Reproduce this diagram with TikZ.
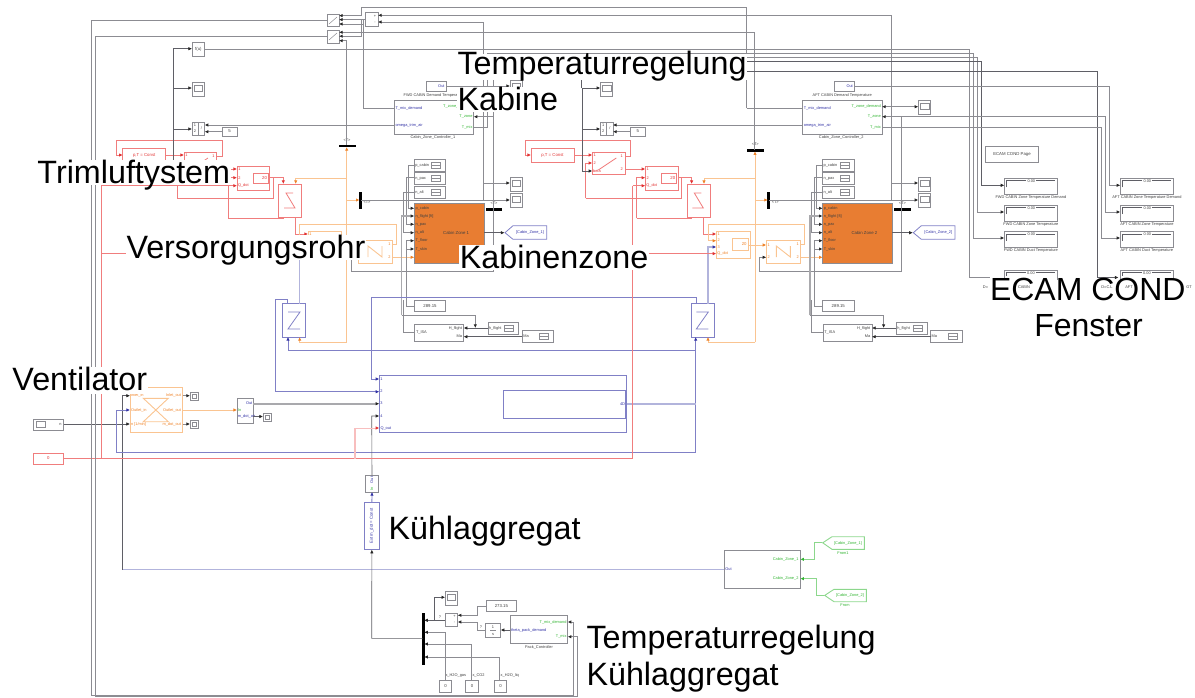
\documentclass[tikz,border=0pt]{standalone}
\usepackage{fontspec}
\setmainfont{Liberation Sans}
\usetikzlibrary{arrows.meta}
\definecolor{cgray}{RGB}{140,140,146}
\definecolor{cdark}{RGB}{95,95,102}
\definecolor{cred}{RGB}{240,125,125}
\definecolor{cpale}{RGB}{248,190,190}
\definecolor{cora}{RGB}{250,196,145}
\definecolor{cblue}{RGB}{128,128,198}
\definecolor{cblpale}{RGB}{178,180,220}
\definecolor{cgrn}{RGB}{140,215,140}
\definecolor{tred}{RGB}{225,50,50}
\definecolor{tora}{RGB}{238,130,40}
\definecolor{tblu}{RGB}{50,50,165}
\definecolor{tgrn}{RGB}{50,180,50}
\definecolor{czone}{RGB}{232,125,50}
\newcounter{labc}
\tikzset{
  base blk/.style={draw,line width=.9pt,inner sep=0pt,outer sep=0pt,font=\fontsize{4.3}{5}\selectfont,text=black!75},
  gblk/.style={base blk,draw=cgray},
  rblk/.style={base blk,draw=cred,text=tred},
  oblk/.style={base blk,draw=cora,text=tora},
  bblk/.style={base blk,draw=cblue,text=tblu},
  zoneblk/.style={base blk,draw=cgray,fill=czone},
  barblk/.style={base blk,draw=black,fill=black},
  txt/.style={inner sep=0pt,outer sep=0pt,font=\fontsize{3.9}{5}\selectfont,text=black!75,text height=2.8pt,text depth=.4pt},
  gl/.style={draw=cgray,line width=.9pt},
  gt/.style={draw=cgray!75,line width=1.8pt},
  dl/.style={draw=cdark,line width=.6pt},
  rl/.style={draw=cred,line width=.8pt},
  rp/.style={draw=cpale,line width=1.2pt},
  ol/.style={draw=cora,line width=.9pt},
  bl/.style={draw=cblue,line width=.8pt},
  bp/.style={draw=cblpale,line width=1.3pt},
  nl/.style={draw=cgrn,line width=.9pt},
  ak/.style={-{Latex[length=3.6pt,width=3.4pt,color=black!85]}},
  ar/.style={-{Latex[length=3.6pt,width=3.4pt,color=tred]}},
  ao/.style={-{Latex[length=3.6pt,width=3.4pt,color=tora]}},
  ab/.style={-{Latex[length=3.6pt,width=3.4pt,color=tblu]}},
  an/.style={-{Latex[length=3.6pt,width=3.4pt,color=tgrn]}},
  big/.style={anchor=base west,inner sep=.5pt,outer sep=0pt,font=\fontsize{32.3}{36}\selectfont,text=black,fill=white,text height=23pt,text depth=1pt},
  bigpl/.style={anchor=base west,inner sep=0pt,outer sep=0pt,font=\fontsize{32}{36}\selectfont,text=black},
}
\newcommand\blk[7][gblk]{\node[#1,minimum width={(#5-(#3))*1pt},minimum height={(#6-(#4))*1pt}] (#2) at ({(#3+#5)/2},{(#4+#6)/2}) {#7};}
\newcommand\lab[4][]{\stepcounter{labc}\node[txt,#1] (lab\arabic{labc}) at ({#2},{#3}) {#4};}
\newcommand\scp[3]{\blk{#1}{#2}{#3}{#2+12.6}{#3+14}{}\draw[gl,line width=.6pt] (#2+2,#3+3) rectangle (#2+10.6,#3+9);}
\newcommand\mini[3]{\blk{#1}{#2}{#3}{#2+8.5}{#3+8}{}\draw[gl,line width=.6pt] (#2+2,#3+2) rectangle (#2+6.5,#3+6);}
\newcommand\snk[6]{\blk{#1}{#2}{#3}{#4}{#5}{}\lab[anchor=west]{#2+1}{(#3+#5)/2}{#6}\draw[gl,line width=.7pt] (#4-14,#3+3) rectangle (#4-5,#5-3);\draw[gl,line width=.4pt] (#4-14,{(#3+#5)/2}) -- (#4-5,{(#3+#5)/2});}
\newcommand\disp[4]{\blk{#1}{#2}{#3}{#2+53.3}{#3+16}{}\draw[dl,line width=.4pt] (#2+2,#3+9) -- (#2+2,#3+2) -- (#2+22,#3+2) (#2+32,#3+2) -- (#2+51,#3+2);\lab{#2+27}{#3+3}{0.00}\lab{#2+26.6}{#3+19}{#4}}
% one half of the system: #1 suffix, #2 shift, #3 top-bar y, #4 title, #5 controller caption
\newcommand\plant[5]{\begin{scope}[xshift=#2pt]
\blk[rblk]{pt#1}{122.7}{148}{165.7}{162}{p,T = Const}
\blk[rblk]{rsw#1}{184}{152}{216.7}{174}{}
\draw[rl] (190,170) -- (208,158);
\lab[text=tred]{186.5}{155}{1}\lab[text=tred]{186.5}{163}{2}\lab[text=tred,anchor=west]{184.8}{171}{beta}\lab[text=tred]{213.5}{156}{1}\lab[text=tred]{213.5}{169}{2}
\blk[rblk]{rq#1}{237}{166}{269.7}{190}{}
\blk[rblk]{rqi#1}{253}{173}{268}{183}{\hspace*{8pt}20}
\lab[text=tred]{239.5}{169}{1}\lab[text=tred]{239.5}{178}{2}\lab[text=tred,anchor=west]{238}{185.7}{Q\_dot}
\blk[rblk]{mix#1}{278.7}{184}{301.7}{217}{}
\draw[rl] (293,193) -- (286,193) -- (295,208) -- (284,208);
\blk[oblk]{ob#1}{308}{231}{341.7}{258}{}
\blk[oblk]{obi#1}{324}{238.3}{339.7}{250.7}{\hspace*{8pt}20}
\lab[text=tora]{310.5}{234}{1}\lab[text=tora]{310.5}{240.7}{2}\lab[text=tora]{310.5}{247}{3}\lab[text=tora,anchor=west]{309}{253.7}{Q\_dot}
\blk[oblk]{nb#1}{358}{240}{392}{263.3}{}
\draw[ol] (368,257) -- (368,246) -- (382,257) -- (382,246);
\lab[text=tora]{360.5}{245}{1}\lab[text=tora]{360.5}{257.3}{2}\lab[text=tora]{389.5}{244.7}{1}\lab[text=tora]{389.5}{257.3}{2}
\blk[zoneblk]{zone#1}{414.3}{203}{484}{263.3}{\hspace*{14pt}Cabin Zone #1}
\lab[anchor=west]{415.5}{208.3}{p\_cabin}\lab[anchor=west]{415.5}{216}{n\_flight [ft]}\lab[anchor=west]{415.5}{224.3}{n\_pax}\lab[anchor=west]{415.5}{232.7}{n\_alt}\lab[anchor=west]{415.5}{240.7}{T\_floor}\lab[anchor=west]{415.5}{249}{T\_skin}\lab[anchor=west,text=tora]{415.5}{257.3}{In}
\snk{sa#1}{414.3}{159.3}{445.7}{171}{p\_cabin}
\snk{sb#1}{414.3}{172}{445.7}{184.3}{n\_pax}
\snk{sc#1}{414.3}{186.3}{445.7}{198.3}{n\_alt}
\blk{tc#1}{414.3}{300.7}{445.7}{311.7}{289.15}
\blk{isa#1}{414.7}{324}{463.7}{341.3}{}
\lab[anchor=west]{416}{332.7}{T\_ISA}\lab[anchor=east]{462}{328}{H\_flight}\lab[anchor=east]{462}{336.7}{Ma}
\snk{sh#1}{488}{322.3}{518.7}{334.7}{h\_flight}
\snk{sm#1}{522.3}{330.3}{553.7}{342.7}{Ma}
\node[bblk,draw=none,fill=none] (tagn#1) at (505,232.7) {};
\draw[bl] (505,232.7) -- (513,225.7) -- (546.7,225.7) -- (546.7,239.3) -- (513,239.3) -- cycle;
\lab[text=tblu]{530}{232.7}{[Cabin\_Zone\_#1]}
\blk[bblk]{zb#1}{282.7}{303.7}{305.7}{337}{}
\draw[bl] (288,312) -- (300,312) -- (288,329) -- (300,329);
\blk[barblk]{bv#1}{339}{#3-.8}{355}{#3+.8}{}
\blk[barblk]{bm#1}{359.6}{192.7}{361}{208.3}{}
\blk[barblk]{bz#1}{486}{208.4}{501.7}{210}{}
\lab{347}{#3-6}{<T>}\lab{367}{202.5}{<T>}\lab{494}{203}{<T>}
\scp{sca#1}{192}{82}
\blk{pr#1}{192}{122}{204.7}{135}{}
\draw[gl,line width=.5pt] (198.4,122) -- (198.4,135);
\lab{195}{125}{1}\lab{195}{131}{2}\lab{201.5}{128.5}{/}
\blk{five#1}{222}{127}{237}{136}{5}
\scp{scb#1}{510}{177}
\scp{scc#1}{510}{193}
\blk{ctl#1}{394.3}{100}{473.7}{134.3}{}
\lab[anchor=west,text=tblu]{395.5}{108}{T\_mix\_demand}\lab[anchor=west,text=tblu]{395.5}{125}{omega\_trim\_air}
\lab[anchor=east,text=tgrn]{472.5}{106}{T\_zone\_demand}\lab[anchor=east,text=tgrn]{472.5}{116.7}{T\_zone}\lab[anchor=east,text=tgrn]{472.5}{127}{T\_mix}
\lab{433}{137}{#5}
\blk{ou#1}{426.3}{81}{446}{91}{}
\lab[anchor=east,text=tblu]{444.5}{86}{Out}
\lab{434}{95}{#4}
% red
\draw[rl,ar] (rsw#1.east|-0,156) -- (222,156) -- (222,140.7) -- (116.7,140.7) -- (116.7,155) -- (pt#1.west|-0,155);
\draw[rl,ar] (pt#1.east|-0,155) -- (rsw#1.west|-0,155);
\draw[rl,ar] (rsw#1.east|-0,169) -- (rq#1.west|-0,169);
\draw[rl,ar] (177.3,198.3) -- (177.3,163) -- (rsw#1.west|-0,163);
\draw[rl,ar] (177.3,198.3) -- (273.3,198.3) -- (273.3,177.3) -- (283.3,177.3) -- (283.3,184);
\draw[rl] (rq#1.east|-0,177.3) -- (273.3,177.3);
\draw[rl,ar] (228.3,218.3) -- (228.3,177.7) -- (rq#1.west|-0,177.7);
\draw[rl] (228.3,218.3) -- (283,218.3) -- (283,217);
\draw[rl,ar] (295.3,217) -- (295.3,234) -- (ob#1.west|-0,234);
% orange
\draw[ol,ao] (346.7,178) -- (295.7,178) -- (295.7,184);
\draw[ol,ao] (346.7,200) -- (bm#1.west|-0,200);
\draw[ol,ao] (346.7,342.3) -- (346.7,#3+1);
\draw[ol,ao] (346.7,342.3) -- (299.7,342.3) -- (299.7,337);
\draw[ol,ao] (nb#1.east|-0,244.7) -- (396,244.7) -- (396,224.7) -- (299.7,224.7) -- (299.7,240.7) -- (ob#1.west|-0,240.7);
\draw[ol,ao] (obi#1.east|-0,245) -- (nb#1.west|-0,245);
\draw[ol,ao] (nb#1.east|-0,257.3) -- (zone#1.west|-0,257.3);
% blue
\draw[bp,ab] (299.7,303.7) -- (299.7,247) -- (ob#1.west|-0,247);
% gray
\draw[gl,ak] (bm#1.east|-0,200) -- (scc#1.west|-0,200);
\draw[dl,ak] (173.7,88) -- (sca#1.west|-0,88);
\draw[dl,ak] (173.7,129) -- (pr#1.west|-0,129);
\draw[dl,ak] (173.7,88) -- (173.7,171) -- (rsw#1.west|-0,171);
\draw[gl,ak] (ctl#1.west|-0,125) -- (pr#1.east|-0,125);
\draw[gl,ak] (five#1.west|-0,131.7) -- (pr#1.east|-0,131.7);
\draw[gl,ak] (483.3,106.7) -- (ctl#1.east|-0,106.7);
\draw[gl] (483.3,106.7) -- (483.3,200);
\draw[gl,ak] (483.3,183) -- (scb#1.west|-0,183);
\draw[gl,ak] (493.3,116.7) -- (ctl#1.east|-0,116.7);
\draw[gl,ak] (493.3,116.7) -- (493.3,271.7) -- (351,271.7) -- (351,257.3) -- (nb#1.west|-0,257.3);
\draw[dl,ak] (zone#1.east|-0,232.7) -- (tagn#1);
\draw[gl,ak] (sa#1.west|-0,165) -- (408,165) -- (408,208.3) -- (zone#1.west|-0,208.3);
\draw[gl,ak] (sb#1.west|-0,177.7) -- (406,177.7) -- (406,224.3) -- (zone#1.west|-0,224.3);
\draw[gl,ak] (sc#1.west|-0,192) -- (403,192) -- (403,232.7) -- (zone#1.west|-0,232.7);
\draw[gt,ak] (401.5,315.3) -- (401.5,216) -- (zone#1.west|-0,216);
\draw[gl,ak] (475.3,315.3) -- (475.3,328);
\draw[gl] (401.5,315.3) -- (475.3,315.3);
\draw[gl,ak] (tc#1.west|-0,306) -- (406,306) -- (406,240.7) -- (zone#1.west|-0,240.7);
\draw[gl,ak] (406,249) -- (zone#1.west|-0,249);
\draw[gl] (isa#1.west|-0,332.7) -- (403,332.7) -- (403,300);
\draw[dl,ak] (sh#1.west|-0,328) -- (isa#1.east|-0,328);
\draw[dl,ak] (sm#1.west|-0,336.7) -- (isa#1.east|-0,336.7);
\end{scope}}
\begin{document}
\begin{tikzpicture}[x=1pt,y=-1pt]
\useasboundingbox (0,0) rectangle (1195,697);
\plant{1}{0}{146}{FWD CABIN Demand Temperature}{Cabin\_Zone\_Controller\_1}
\plant{2}{408.3}{150.3}{AFT CABIN Demand Temperature}{Cabin\_Zone\_Controller\_2}
% top switches
\blk{sw1}{327}{14}{339}{26.7}{}
\blk{sw2}{327}{30}{339}{43}{}
\draw[gl,line width=.5pt] (329,24) -- (337,17) (329,40) -- (337,33);
\blk{sum}{365}{12.7}{378}{26}{}
\lab{375}{16}{+}\lab{375}{22}{-}
\blk{fu}{192}{42}{204.7}{56}{f(u)}
\scp{scf}{510}{80}
\scp{scg}{918.3}{100}
% displays
\blk{ecam}{985.7}{146.7}{1038.3}{162.3}{ECAM COND Page}
\disp{da}{1004.3}{178.3}{FWD CABIN Zone Temperature Demand}
\disp{db}{1004.3}{205}{FWD CABIN Zone Temperature}
\disp{dc}{1004.3}{231.7}{FWD CABIN Duct Temperature}
\disp{dd}{1120.3}{178.3}{AFT CABIN Zone Temperature Demand}
\disp{de}{1120.3}{205}{AFT CABIN Zone Temperature}
\disp{df}{1120.3}{231.7}{AFT CABIN Duct Temperature}
\draw[gl] (1004.3,280) -- (1004.3,270) -- (1057.6,270) -- (1057.6,280);
\draw[gl] (1120.3,280) -- (1120.3,270) -- (1173.6,270) -- (1173.6,280);
\draw[dl,line width=.4pt] (1006.3,276) -- (1006.3,272) -- (1026,272) (1036,272) -- (1055,272) (1122.3,276) -- (1122.3,272) -- (1142,272) (1152,272) -- (1171,272);
\lab{1031}{273}{0.00}\lab{1147}{273}{0.00}
\coordinate (dg) at (990,277.5);
\coordinate (dh) at (1118.5,277.5);
\lab{985.5}{287.7}{D=}\lab{1024}{287.7}{CABIN}\lab{1107}{287.7}{D=C.L}\lab{1129}{287.7}{AFT}\lab{1189}{287.7}{GT}
% fan
\blk[oblk]{fan}{130}{387}{182.7}{432}{}
\draw[ol] (143.3,398.3) -- (168.3,398.3) -- (143.3,421.7) -- (168.3,421.7) -- cycle;
\lab[anchor=west,text=tora]{131}{395.7}{Inlet\_in}\lab[anchor=west,text=tora]{131}{410}{Outlet\_in}\lab[anchor=west,text=tora]{131}{424}{n [1/min]}
\lab[anchor=east,text=tora]{181}{395.7}{Inlet\_out}\lab[anchor=east,text=tora]{181}{410}{Outlet\_out}\lab[anchor=east,text=tora]{181}{424}{m\_dot\_out}
\mini{mfa}{190}{392}\mini{mfb}{190}{420}\mini{mfc}{263}{413}
\blk{nin}{33}{419}{63.7}{430}{}
\draw[gl,line width=.7pt] (36,421.5) rectangle (45,427.5);
\lab{60.5}{424.5}{n}
\blk[rblk]{zero}{33}{453}{63.7}{464}{0}
\blk{sup}{237}{398}{253.3}{423}{}
\lab[anchor=east,text=tblu]{252.3}{403.7}{Out}\lab[anchor=west,text=tgrn]{238}{410}{In}\lab[anchor=west,text=tblu]{237.8}{416.5}{m\_dot\_air}
% big blue block
\blk[bblk]{bigb}{379.3}{375.3}{626.7}{432.3}{}
\blk[bblk]{inb}{503.3}{390.3}{625.7}{418}{}
\lab[text=tblu]{381.5}{379}{1}\lab[text=tblu]{381.5}{391.7}{2}\lab[text=tblu]{381.5}{403.7}{3}\lab[text=tblu]{381.5}{416}{4}\lab[anchor=west,text=tblu]{380.5}{428}{Q\_out}
\lab[anchor=east,text=tblu]{625}{404}{4D}
\blk{outb}{365.3}{475.3}{378.7}{492}{}
\lab[rotate=90,text=tblu]{372}{480}{Out}\lab[rotate=90,text=tgrn]{372}{488.5}{In}
\blk[bblk]{ext}{364}{502.3}{379.7}{549.7}{\rotatebox{90}{Ext m\_dot = Const}}
% pack
\blk[barblk]{bbar}{422.6}{613.3}{424.2}{664}{}
\scp{scp}{445.1}{591}
\blk{sumb}{445.3}{613.3}{457.7}{626}{}
\lab{454.5}{616}{+}\lab{454.5}{622}{-}
\blk{tcc}{486}{600.3}{516.7}{611.7}{273.15}
\blk{ints}{485.7}{623.3}{500.7}{637.7}{}
\lab{493}{627}{1}\draw[gl,line width=.4pt] (490,630.5) -- (496,630.5);\lab{493}{634}{s}
\blk{pack}{510.3}{615.3}{567.7}{643.7}{}
\lab[anchor=east,text=tgrn]{566.5}{622}{T\_mix\_demand}\lab[anchor=east,text=tgrn]{566.5}{636.7}{T\_mix}\lab[anchor=west,text=tblu]{511}{630}{theta\_pack\_demand}
\lab{539}{647}{Pack\_Controller}
\blk{ca}{439.3}{680}{451.7}{692}{0}
\blk{cb}{465.7}{680}{478.3}{692}{0}
\blk{cc}{494.3}{680}{506.7}{692}{0}
\lab[anchor=west]{445.5}{675}{x\_H2O\_gas}\lab[anchor=west]{472.5}{675}{x\_CO2}\lab[anchor=west]{500.7}{675}{x\_H2O\_liq}
\lab{440}{617}{?}\lab{481}{627}{?}
% green block
\blk{grn}{724.3}{550.7}{800.3}{588.7}{}
\lab[anchor=west,text=tblu]{725.3}{569.5}{Out}
\lab[anchor=east,text=tgrn]{798.5}{559.3}{Cabin\_Zone\_1}\lab[anchor=east,text=tgrn]{798.5}{578.7}{Cabin\_Zone\_2}
\node[txt] (fra) at (822.7,542.8) {};
\node[txt] (frb) at (824.7,595.4) {};
\draw[nl] (822.7,542.8) -- (832,536.7) -- (864.3,536.7) -- (864.3,549.3) -- (832,549.3) -- cycle;
\draw[nl] (824.7,595.4) -- (834,589.3) -- (866.3,589.3) -- (866.3,601.7) -- (834,601.7) -- cycle;
\lab[text=tgrn]{848}{543}{[Cabin\_Zone\_1]}\lab[text=tgrn]{850}{595.5}{[Cabin\_Zone\_2]}
\lab[text=tgrn]{843}{553}{From1}\lab[text=tgrn]{845}{605}{From}
% ---- connectors
\draw[nl,an] (fra) -- (814.3,542.8) -- (814.3,559.3) -- (grn.east|-0,559.3);
\draw[nl,an] (frb) -- (816.3,595.4) -- (816.3,578.7) -- (grn.east|-0,578.7);
\draw[gl,draw=cblpale] (grn.west|-0,569.7) -- (122.3,569.7);
\draw[dl,ak] (122.3,569.7) -- (122.3,395.7) -- (fan.west|-0,395.7);
\draw[dl,ak] (nin.east|-0,424) -- (fan.west|-0,424);
\draw[ol,ao] (fan.east|-0,410) -- (sup.west|-0,410);
\draw[gl,ak] (fan.east|-0,395.7) -- (mfa.west|-0,395.7);
\draw[gl,ak] (fan.east|-0,424) -- (mfb.west|-0,424);
\draw[dl,ak] (sup.east|-0,416.5) -- (mfc.west|-0,416.5);
\draw[gt,ak] (sup.east|-0,403.7) -- (bigb.west|-0,403.7);
\draw[bl,ab] (695.7,452.3) -- (116.3,452.3) -- (116.3,410) -- (fan.west|-0,410);
\draw[bl,ab] (695.7,452.3) -- (695.7,337);
\draw[bl,ab] (695.7,350) -- (288,350) -- (288,337);
\draw[bp] (bigb.east|-0,404) -- (695.7,404);
\draw[bl,ab] (696,303.7) -- (696,297) -- (371.3,297) -- (371.3,379) -- (bigb.west|-0,379);
\draw[bl,ab] (287.5,303.7) -- (287.5,299.3) -- (275.7,299.3) -- (275.7,391.7) -- (bigb.west|-0,391.7);
\draw[dl,ak] (outb.north) -- (371.7,416) -- (bigb.west|-0,416);
\draw[bl,ab] (ext.north) -- (outb.south);
\draw[dl,ak] (bbar.west|-0,638.3) -- (371.7,638.3) -- (ext.south);
% red long lines
\draw[rl] (zero.east|-0,458.7) -- (632.7,458.7) -- (632.7,185.7);
\draw[rl,ar] (632.7,185.7) -- (rq2.west|-0,185.7);
\draw[rl,ar] (632.7,253.6) -- (ob2.west|-0,253.6);
\draw[rl] (101,458.7) -- (101,185.7);
\draw[rl,ar] (101,185.7) -- (rq1.west|-0,185.7);
\draw[rl,ar] (101,253.6) -- (ob1.west|-0,253.6);
\draw[rp] (355,458.7) -- (355,428);
\draw[cpale,line width=.7pt,ar] (355,428) -- (bigb.west|-0,428);
% left return lines
\draw[gl,ak] (sw1.west|-0,20) -- (91.7,20) -- (91.7,695.7) -- (573.3,695.7) -- (573.3,622) -- (pack.east|-0,622);
\draw[gl,ak] (sw2.west|-0,36.7) -- (95.7,36.7) -- (95.7,696.8) -- (577,696.8) -- (577,636.7) -- (pack.east|-0,636.7);
% top signals
\draw[gl,ak] (sum.west|-0,19.6) -- (363.3,19.6) -- (363.3,24) -- (sw1.east|-0,24);
\draw[gl,ak] (363.3,19.6) -- (sw1.east|-0,19.6);
\draw[gl] (363.3,24) -- (363.3,108) -- (ctl1.west|-0,108);
\draw[gl,ak] (361.7,19.6) -- (361.7,36.2) -- (sw2.east|-0,36.2);
\draw[gl,ak] (746.7,108) -- (746.7,7.3) -- (361,7.3) -- (361,15.6) -- (sw1.east|-0,15.6);
\draw[gl] (746.7,108) -- (ctl2.west|-0,108);
\draw[gl,ak] (754.3,32.3) -- (sw2.east|-0,32.3);
\draw[gl] (754.3,32.3) -- (754.3,149.5);
\draw[gl,ak] (346.7,145.2) -- (346.7,40.7) -- (sw2.east|-0,40.7);
\draw[gl,ak] (891.7,200) -- (891.7,15.3) -- (sum.east|-0,15.3);
\draw[gl,ak] (483.3,106.7) -- (483.3,22) -- (sum.east|-0,22);
\draw[gl,ak] (891.7,106.7) -- (scg.west|-0,106.7);
% f(u) and display feeds
\draw[dl,ak] (173.7,88) -- (173.7,48.7) -- (fu.west|-0,48.7);
\draw[gl] (fu.east|-0,49) -- (969.3,49) -- (969.3,277.5) -- (dg);
\draw[gl,ak] (ctl1.east|-0,127) -- (487.7,127) -- (487.7,53.3) -- (973.3,53.3) -- (973.3,238) -- (dc.west|-0,238);
\draw[gl,ak] (493.3,116.7) -- (493.3,57.3) -- (977.3,57.3) -- (977.3,212) -- (db.west|-0,212);
\draw[dl,ak] (483.3,61.7) -- (981.3,61.7) -- (981.3,185.3) -- (da.west|-0,185.3);
\draw[dl,ak] (581.7,88) -- (581.7,71.7) -- (1097.3,71.7) -- (1097.3,277.5) -- (dh);
\draw[gl,ak] (ou2.east|-0,86) -- (1109.7,86) -- (1109.7,185.3) -- (dd.west|-0,185.3);
\draw[gl,ak] (901.6,116.7) -- (1105.7,116.7) -- (1105.7,212) -- (de.west|-0,212);
\draw[gl,ak] (ctl2.east|-0,127) -- (1101.7,127) -- (1101.7,238) -- (df.west|-0,238);
\draw[gl,ak] (ou1.east|-0,86) -- (scf.west|-0,86);
% pack connectors
\draw[gl,ak] (tcc.west|-0,606) -- (477,606) -- (477,615.3) -- (sumb.east|-0,615.3);
\draw[gl,ak] (ints.west|-0,630) -- (477,630) -- (477,622) -- (sumb.east|-0,622);
\draw[dl,ak] (pack.west|-0,630) -- (ints.east|-0,630);
\draw[dl,ak] (sumb.west|-0,620.3) -- (bbar.east|-0,620.3);
\draw[dl,ak] (434.7,620.3) -- (434.7,597.3) -- (scp.west|-0,597.3);
\draw[gl,ak] (445,680) -- (445,632.3) -- (bbar.east|-0,632.3);
\draw[gl,ak] (471.7,680) -- (471.7,644) -- (bbar.east|-0,644);
\draw[gl,ak] (499.7,680) -- (499.7,657) -- (bbar.east|-0,657);
% big captions
\node[big] (t1) at (37,183.3) {Trimluftystem};
\node[big] (t2) at (126,258.3) {Versorgungsrohr};
\node[big,text depth=3pt] (t3) at (12,390) {Ventilator};
\node[big,text height=19.5pt,text depth=5pt] (t4) at (457,74) {Temperaturregelung};
\node[big] (t5) at (457,110) {Kabine};
\node[big] (t6) at (459.3,268.3) {Kabinenzone};
\node[big,fill=none] (t7) at (388,539.3) {Kühlaggregat};
\node[big,fill=none] (t8) at (586,648.3) {Temperaturregelung};
\node[big,fill=none] (t9) at (586,685) {Kühlaggregat};
\node[bigpl] (t10) at (990,300.7) {ECAM COND};
\node[bigpl] (t11) at (1034.3,336.7) {Fenster};
\end{tikzpicture}
\end{document}
